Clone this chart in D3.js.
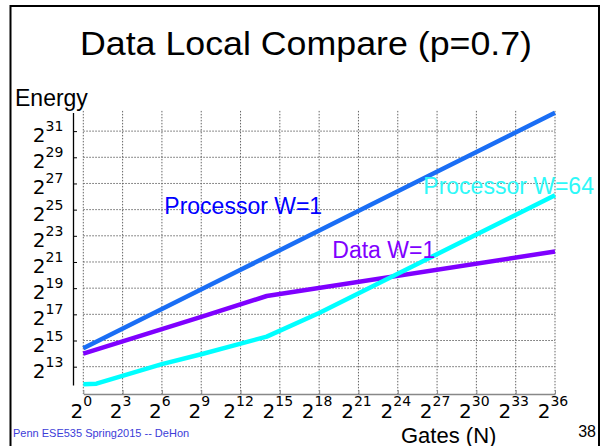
<!DOCTYPE html>
<html>
<head>
<meta charset="utf-8">
<script src="https://cdn.jsdelivr.net/npm/d3@7"></script>
<style>
    body { margin: 0; background: #fff; }
    text { font-family: "Liberation Sans", Arial, sans-serif; }
    .tick text { font-family: "DejaVu Sans", sans-serif; }
</style>
</head>
<body>
<div id="chart"></div>
<script>
// all values are base-2 exponents (log2 of gates / log2 of energy)
var xTicks = [0, 3, 6, 9, 12, 15, 18, 21, 24, 27, 30, 33, 36];
var yTicks = [13, 15, 17, 19, 21, 23, 25, 27, 29, 31];

var procW1Gates = [0, 12, 24, 36];
var procW1Energy = [14.4, 20.4, 26.4, 32.4];

var dataW1Gates = [0, 9, 14, 36];
var dataW1Energy = [14.0, 16.8, 18.4, 21.8];

var procW64Gates = [0, 1, 6, 9, 14, 18, 24, 36];
var procW64Energy = [11.65, 11.7, 13.2, 13.95, 15.3, 17.1, 20.1, 26.1];

var seriesNames = ["Processor W=1", "Data W=1", "Processor W=64"];

var attrs = {
    width: 607,
    height: 446,
    xLeft: 83.3,
    xRight: 555,
    yTop: 112.4,
    yBottom: 385,
    xAxisY: 394,
    yAxisX: 73,
    lineWidth: 4.5
};

var svg = d3.select("#chart").append("svg")
    .attr("width", attrs.width)
    .attr("height", attrs.height);

// slide frame
svg.append("rect")
    .attr("x", 10.5)
    .attr("y", 6)
    .attr("width", 588.5)
    .attr("height", 460)
    .attr("fill", "none")
    .attr("stroke", "#000")
    .attr("stroke-width", 2);

svg.append("text")
    .attr("x", 306)
    .attr("y", 55)
    .attr("text-anchor", "middle")
    .attr("font-size", 33)
    .attr("textLength", 452)
    .attr("lengthAdjust", "spacingAndGlyphs")
    .text("Data Local Compare (p=0.7)");

var x = d3.scaleLinear().domain([0, 36]).range([attrs.xLeft, attrs.xRight]);
var y = d3.scaleLinear().domain([11.6, 32.43]).range([attrs.yBottom, attrs.yTop]);

// dotted grid
var grid = svg.append("g").attr("class", "grid")
    .attr("stroke", "#666")
    .attr("stroke-width", 1)
    .attr("stroke-dasharray", "1.5,1.5");
grid.selectAll(".vgrid").data(xTicks).enter()
    .append("line")
    .attr("x1", function(d) { return x(d); })
    .attr("x2", function(d) { return x(d); })
    .attr("y1", attrs.yTop - 1.5)
    .attr("y2", attrs.xAxisY);
grid.selectAll(".hgrid").data(yTicks).enter()
    .append("line")
    .attr("x1", attrs.xLeft)
    .attr("x2", attrs.xRight)
    .attr("y1", function(d) { return y(d); })
    .attr("y2", function(d) { return y(d); });

// put "2" + superscript exponent into a tick label
function powLabel(sel, supDy) {
    sel.each(function(d) {
        var t = d3.select(this);
        t.text(null);
        t.append("tspan").attr("font-size", 20).text("2");
        t.append("tspan").attr("font-size", 14).attr("dy", supDy).text(d);
    });
}

var xAxis = svg.append("g")
    .attr("transform", "translate(0," + attrs.xAxisY + ")")
    .call(d3.axisBottom(x).tickValues(xTicks).tickSize(-4).tickSizeOuter(0));
xAxis.select(".domain").attr("stroke", "#888").attr("stroke-width", 1.5);
xAxis.selectAll(".tick line").attr("stroke", "#888");
xAxis.selectAll(".tick text")
    .attr("fill", "#000")
    .attr("dy", null)
    .attr("y", 23.5)
    .attr("x", -2.5)
    .call(powLabel, -11.5);

var yAxis = svg.append("g")
    .attr("transform", "translate(" + attrs.yAxisX + ",0)")
    .call(d3.axisLeft(y).tickValues(yTicks).tickSize(-4).tickSizeOuter(0));
yAxis.select(".domain").attr("stroke", "#000").attr("stroke-width", 1.3);
yAxis.selectAll(".tick line").attr("stroke", "#000");
yAxis.selectAll(".tick text")
    .attr("fill", "#000")
    .attr("dy", null)
    .attr("y", 10.5)
    .attr("x", -9.7)
    .attr("text-anchor", "end")
    .call(powLabel, -11);

// series lines
var series = [
    { name: seriesNames[0], gates: procW1Gates, energy: procW1Energy, color: "#1a6ef5" },
    { name: seriesNames[1], gates: dataW1Gates, energy: dataW1Energy, color: "#7f00ff" },
    { name: seriesNames[2], gates: procW64Gates, energy: procW64Energy, color: "#00ffff" }
];

var line = d3.line()
    .x(function(d) { return x(d[0]); })
    .y(function(d) { return y(d[1]); });

svg.selectAll(".series").data(series).enter()
    .append("path")
    .attr("class", "series")
    .attr("fill", "none")
    .attr("stroke", function(d) { return d.color; })
    .attr("stroke-width", attrs.lineWidth)
    .attr("stroke-linejoin", "round")
    .attr("d", function(d) { return line(d3.zip(d.gates, d.energy)); });

// series labels
var labels = [
    { text: seriesNames[0], x: 164.3, y: 214, color: "#0000ff" },
    { text: seriesNames[1], x: 332.3, y: 258.3, color: "#8000ff" },
    { text: seriesNames[2], x: 423.3, y: 194, color: "#2ef8f8" }
];
svg.selectAll(".slabel").data(labels).enter()
    .append("text")
    .attr("class", "slabel")
    .attr("x", function(d) { return d.x; })
    .attr("y", function(d) { return d.y; })
    .attr("font-size", 23)
    .attr("fill", function(d) { return d.color; })
    .text(function(d) { return d.text; });

// axis titles
svg.append("text")
    .attr("x", 15)
    .attr("y", 106)
    .attr("font-size", 23)
    .text("Energy");
svg.append("text")
    .attr("x", 401)
    .attr("y", 442.5)
    .attr("font-size", 22)
    .text("Gates (N)");

// footer
svg.append("text")
    .attr("x", 13)
    .attr("y", 437)
    .attr("font-size", 11)
    .attr("fill", "#3c3cd8")
    .text("Penn ESE535 Spring2015 -- DeHon");
svg.append("text")
    .attr("x", 596)
    .attr("y", 437)
    .attr("text-anchor", "end")
    .attr("font-size", 16)
    .text("38");
</script>
</body>
</html>
